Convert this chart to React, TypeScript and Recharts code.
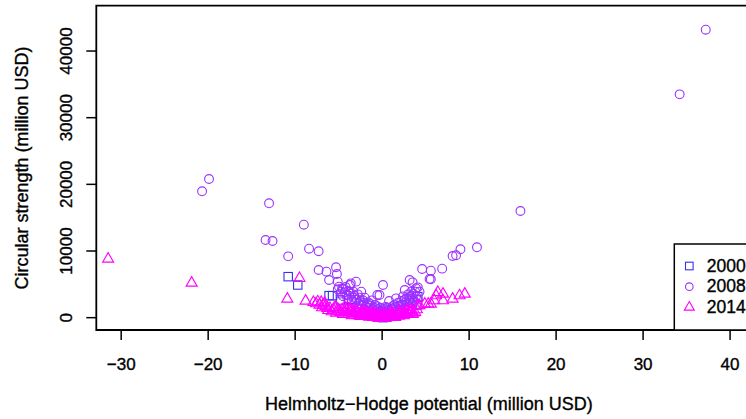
import React from "react";
import { ScatterChart, Scatter, XAxis, YAxis, ReferenceArea } from "recharts";

const xTicks = [-30, -20, -10, 0, 10, 20, 30, 40];
const yTicks = [0, 10000, 20000, 30000, 40000];
const seriesNames = ["2000", "2008", "2014"];
const colors = ["#3a2ef0", "#9b30ff", "#ff00ff"];

const pts2000 = [
  { x: -10.8, y: 6150 }, { x: -9.7, y: 4900 }, { x: -6.1, y: 3300 }, { x: -5.7, y: 3300 },
  { x: -4.8, y: 2650 }, { x: 4.1, y: 3150 }, { x: 3.5, y: 2200 }, { x: 3.2, y: 1400 },
  { x: 0.1, y: 0 }, { x: -0.5, y: 300 }, { x: 1.0, y: 200 }, { x: -2.0, y: 800 },
  { x: 2.0, y: 900 }, { x: -3.5, y: 1500 }, { x: -1.0, y: 500 }, { x: 0.5, y: 100 },
  { x: 4.0, y: 1900 },
];

const pts2008 = [
  { x: 37.2, y: 43200 }, { x: 34.2, y: 33500 }, { x: 15.9, y: 16000 }, { x: 10.9, y: 10560 },
  { x: 9.0, y: 10260 }, { x: 8.5, y: 9360 }, { x: 8.1, y: 9250 }, { x: 6.9, y: 7350 },
  { x: 5.6, y: 7050 }, { x: 4.6, y: 7300 }, { x: 5.6, y: 5760 },
  { x: -19.9, y: 20800 }, { x: -20.7, y: 18960 }, { x: -13.0, y: 17160 }, { x: -9.0, y: 13950 },
  { x: -13.4, y: 11650 }, { x: -12.6, y: 11500 }, { x: -10.8, y: 9200 }, { x: -8.4, y: 10350 },
  { x: -7.3, y: 9960 }, { x: -7.3, y: 7150 }, { x: -6.4, y: 6900 }, { x: -5.3, y: 7560 },
  { x: -5.2, y: 6550 }, { x: -6.1, y: 5650 }, { x: -5.1, y: 5400 }, { x: -3.6, y: 5150 },
  { x: -3.0, y: 5400 }, { x: -5.1, y: 4260 }, { x: -3.7, y: 3900 }, { x: -2.4, y: 3900 },
  { x: -0.55, y: 3400 }, { x: 0.1, y: 4900 }, { x: -0.3, y: 3400 }, { x: 3.16, y: 5650 },
  { x: 3.5, y: 5300 }, { x: 2.6, y: 4150 }, { x: 4.1, y: 4550 }, { x: 4.3, y: 3900 },
  { x: 5.45, y: 5800 }, { x: 3.9, y: 4400 }, { x: 3.35, y: 3900 },
  { x: -4.96, y: 4650 }, { x: -4.5, y: 4260 }, { x: -3.7, y: 4900 }, { x: -3.3, y: 3900 },
  { x: -4.8, y: 3600 }, { x: -4.5, y: 3200 }, { x: -4.3, y: 3800 }, { x: -4.0, y: 2900 },
  { x: -3.8, y: 3300 }, { x: -3.5, y: 2600 }, { x: -3.3, y: 3000 }, { x: -3.1, y: 2300 },
  { x: -2.9, y: 2700 }, { x: -2.7, y: 2100 }, { x: -2.5, y: 2500 }, { x: -2.3, y: 1900 },
  { x: -2.1, y: 2200 }, { x: -1.9, y: 1700 }, { x: -1.7, y: 2000 }, { x: -1.5, y: 1500 },
  { x: -1.3, y: 1800 }, { x: -1.1, y: 1300 }, { x: -0.9, y: 1500 }, { x: -0.7, y: 1100 },
  { x: -0.5, y: 1300 }, { x: -0.3, y: 900 }, { x: -0.1, y: 1100 }, { x: 0.1, y: 800 },
  { x: 0.3, y: 1000 }, { x: 0.5, y: 900 }, { x: 0.7, y: 1200 }, { x: 0.9, y: 1000 },
  { x: 1.1, y: 1400 }, { x: 1.3, y: 1200 }, { x: 1.5, y: 1600 }, { x: 1.7, y: 1400 },
  { x: 1.9, y: 1800 }, { x: 2.1, y: 1600 }, { x: 2.3, y: 2000 }, { x: 2.5, y: 1800 },
  { x: 2.7, y: 2300 }, { x: 2.9, y: 2000 }, { x: 3.1, y: 2600 }, { x: 3.3, y: 2300 },
  { x: 3.5, y: 2900 }, { x: 3.7, y: 2500 }, { x: 3.9, y: 3200 }, { x: 4.1, y: 2700 },
  { x: -4.6, y: 4400 }, { x: -4.2, y: 4600 }, { x: -3.9, y: 4000 }, { x: -2.8, y: 3500 },
  { x: -2.0, y: 3000 }, { x: -1.2, y: 2600 }, { x: 0.8, y: 2500 }, { x: 1.6, y: 2900 },
  { x: 2.4, y: 3200 }, { x: 3.0, y: 3500 }, { x: -1.0, y: 600 }, { x: 0.0, y: 400 },
  { x: 1.0, y: 500 }, { x: -2.0, y: 1100 }, { x: 2.0, y: 1200 }, { x: -3.0, y: 1600 },
  { x: 3.0, y: 1700 },
  { x: -4.7, y: 3900 }, { x: -4.1, y: 3400 }, { x: -3.6, y: 3600 }, { x: -3.2, y: 3300 },
  { x: -2.6, y: 3000 }, { x: -2.2, y: 2600 }, { x: -1.6, y: 2300 }, { x: -1.4, y: 2100 },
  { x: -0.8, y: 1900 }, { x: -0.6, y: 1700 }, { x: -0.2, y: 1500 }, { x: 0.2, y: 1300 },
  { x: 0.4, y: 1600 }, { x: 0.6, y: 1500 }, { x: 1.2, y: 1700 }, { x: 1.4, y: 1900 },
  { x: 1.8, y: 2200 }, { x: 2.2, y: 2500 }, { x: 2.6, y: 2700 }, { x: 2.8, y: 2900 },
  { x: 3.2, y: 3100 }, { x: 3.4, y: 3300 }, { x: 3.6, y: 3600 }, { x: 3.8, y: 3900 },
  { x: -1.6, y: 1100 }, { x: -0.4, y: 700 }, { x: 0.6, y: 600 }, { x: 1.6, y: 1000 },
  { x: 2.6, y: 1300 }, { x: -2.6, y: 1400 },
];

const pts2014 = [
  { x: -31.5, y: 8900 }, { x: -21.9, y: 5300 }, { x: -10.9, y: 2900 }, { x: -9.5, y: 6000 },
  { x: -8.8, y: 2600 }, { x: -7.0, y: 2400 }, { x: -6.8, y: 2000 }, { x: -5.3, y: 1650 },
  { x: -3.7, y: 1400 }, { x: 5.6, y: 2150 }, { x: 6.2, y: 3400 }, { x: 7.0, y: 3650 },
  { x: 7.0, y: 2650 }, { x: 8.1, y: 2900 }, { x: 8.9, y: 3400 }, { x: 9.5, y: 3650 },
  { x: 4.9, y: 2150 }, { x: 4.3, y: 1900 }, { x: -5.45, y: 1650 }, { x: -4.3, y: 1650 },
  { x: 5.3, y: 2150 }, { x: 6.4, y: 3900 }, { x: 6.0, y: 2650 }, { x: 4.1, y: 1900 },
  { x: -6.5, y: 1800 }, { x: -6.0, y: 1500 }, { x: -5.6, y: 1300 }, { x: -5.0, y: 1100 },
  { x: -4.6, y: 1300 }, { x: -4.2, y: 900 }, { x: -3.8, y: 1100 }, { x: -3.4, y: 700 },
  { x: -3.0, y: 900 }, { x: -2.6, y: 600 }, { x: -2.2, y: 800 }, { x: -1.8, y: 400 },
  { x: -1.4, y: 600 }, { x: -1.0, y: 300 }, { x: -0.6, y: 500 }, { x: -0.2, y: 150 },
  { x: 0.2, y: 300 }, { x: 0.6, y: 150 }, { x: 1.0, y: 400 }, { x: 1.4, y: 300 },
  { x: 1.8, y: 600 }, { x: 2.2, y: 500 }, { x: 2.6, y: 800 }, { x: 3.0, y: 700 },
  { x: 3.4, y: 1000 }, { x: 3.8, y: 900 }, { x: -4.0, y: 1600 }, { x: -3.0, y: 1300 },
  { x: -2.0, y: 1100 }, { x: -1.0, y: 800 }, { x: 0.0, y: 600 }, { x: 1.0, y: 800 },
  { x: 2.0, y: 1000 }, { x: 3.0, y: 1300 }, { x: -0.4, y: 0 }, { x: 0.4, y: 50 },
  { x: -1.5, y: 200 }, { x: 1.5, y: 150 }, { x: -2.5, y: 300 }, { x: 2.5, y: 400 },
  { x: -3.5, y: 400 }, { x: 3.5, y: 600 }, { x: 4.0, y: 1300 }, { x: -5.3, y: 800 },
  { x: -4.5, y: 600 }, { x: -6.2, y: 1200 }, { x: -7.2, y: 2000 }, { x: -7.6, y: 2200 },
  { x: -6.9, y: 1600 }, { x: -6.6, y: 2300 },
  { x: -4.8, y: 900 }, { x: -4.4, y: 1000 }, { x: -3.9, y: 700 }, { x: -3.6, y: 900 },
  { x: -3.2, y: 500 }, { x: -2.9, y: 700 }, { x: -2.7, y: 400 }, { x: -2.4, y: 600 },
  { x: -2.1, y: 300 }, { x: -1.9, y: 500 }, { x: -1.6, y: 300 }, { x: -1.3, y: 400 },
  { x: -1.1, y: 150 }, { x: -0.8, y: 300 }, { x: -0.5, y: 100 }, { x: -0.3, y: 250 },
  { x: 0.0, y: 100 }, { x: 0.1, y: 250 }, { x: 0.3, y: 100 }, { x: 0.5, y: 300 },
  { x: 0.8, y: 200 }, { x: 1.2, y: 250 }, { x: 1.6, y: 450 }, { x: 1.9, y: 350 },
  { x: 2.3, y: 700 }, { x: 2.7, y: 600 }, { x: 3.2, y: 900 }, { x: 3.6, y: 800 },
  { x: -5.8, y: 1000 }, { x: -6.3, y: 1500 }, { x: -5.1, y: 1400 }, { x: -4.1, y: 1200 },
  { x: -3.3, y: 1000 }, { x: -2.4, y: 900 }, { x: -1.6, y: 700 }, { x: -0.8, y: 650 },
  { x: 0.4, y: 550 }, { x: 1.2, y: 650 }, { x: 2.0, y: 800 }, { x: 2.8, y: 1100 },
  { x: 3.3, y: 1200 }, { x: -7.9, y: 2400 }, { x: -7.4, y: 2500 },
];

const FONT = "'Liberation Sans', Arial, Helvetica, sans-serif";
const X_DOMAIN: [number, number] = [-32.86, 43.6];
const Y_DOMAIN: [number, number] = [-1850, 46800];
const TXT_STROKE = 0.35;

const fmt = (v: number) => String(v).replace("-", "\u2212");

const Square = (props: any) => {
  const { cx, cy, color, s = 4.2 } = props;
  if (cx == null || cy == null) return null;
  return <rect x={cx - s} y={cy - s} width={2 * s} height={2 * s} fill="none" stroke={color} strokeWidth={1.1} />;
};
const Circle = (props: any) => {
  const { cx, cy, color, s = 4.4 } = props;
  if (cx == null || cy == null) return null;
  return <circle cx={cx} cy={cy} r={s} fill="none" stroke={color} strokeWidth={1.1} />;
};
const Triangle = (props: any) => {
  const { cx, cy, color, s = 5.5 } = props;
  if (cx == null || cy == null) return null;
  const h = s * 1.73;
  const w = s;
  return (
    <path
      d={`M${cx},${cy - h * 0.6} L${cx + w},${cy + h * 0.4} L${cx - w},${cy + h * 0.4} Z`}
      fill="none"
      stroke={color}
      strokeWidth={1.1}
    />
  );
};

const YTick = (props: any) => {
  const { x, y, payload } = props;
  return (
    <text
      x={x}
      y={y}
      transform={`rotate(-90, ${x}, ${y})`}
      textAnchor="middle"
      fontSize={17}
      fontFamily={FONT}
      fill="#000"
      stroke="#000"
      strokeWidth={TXT_STROKE}
    >
      {fmt(payload.value)}
    </text>
  );
};

export default function App() {
  return (
    <div style={{ position: "absolute", left: 0, top: 0, width: 746, height: 419, overflow: "hidden", background: "#fff" }}>
      <ScatterChart
        width={800}
        height={419}
        margin={{ top: 5.7, right: 38.6, bottom: 49, left: 36.3 }}
      >
        <XAxis
          type="number"
          dataKey="x"
          domain={X_DOMAIN}
          ticks={xTicks}
          allowDataOverflow
          height={40}
          axisLine={false}
          tickLine={{ stroke: "#000", strokeWidth: 1.5 }}
          tickSize={10}
          tickMargin={18}
          tickFormatter={fmt}
          tick={{ fill: "#000", fontSize: 17, fontFamily: FONT, stroke: "#000", strokeWidth: TXT_STROKE }}
          interval={0}
        />
        <YAxis
          type="number"
          dataKey="y"
          domain={Y_DOMAIN}
          ticks={yTicks}
          allowDataOverflow
          width={60}
          axisLine={false}
          tickLine={{ stroke: "#000", strokeWidth: 1.5 }}
          tickSize={10}
          tickMargin={14.6}
          tick={<YTick />}
          interval={0}
        />
        <ReferenceArea
          x1={X_DOMAIN[0]}
          x2={X_DOMAIN[1]}
          y1={Y_DOMAIN[0]}
          y2={Y_DOMAIN[1]}
          fill="none"
          fillOpacity={0}
          stroke="#000"
          strokeWidth={1.8}
          ifOverflow="visible"
        />
        <Scatter name={seriesNames[0]} data={pts2000} isAnimationActive={false} shape={(p: any) => <Square {...p} color={colors[0]} />} />
        <Scatter name={seriesNames[1]} data={pts2008} isAnimationActive={false} shape={(p: any) => <Circle {...p} color={colors[1]} />} />
        <Scatter name={seriesNames[2]} data={pts2014} isAnimationActive={false} shape={(p: any) => <Triangle {...p} color={colors[2]} />} />
      </ScatterChart>
      <svg width={746} height={419} style={{ position: "absolute", left: 0, top: 0, pointerEvents: "none" }}>
        <text x={428.9} y={410} textAnchor="middle" fontSize={18} fontFamily={FONT} fill="#000" stroke="#000" strokeWidth={TXT_STROKE}>
          {"Helmholtz\u2212Hodge potential (million USD)"}
        </text>
        <text
          x={28}
          y={168}
          transform="rotate(-90, 28, 168)"
          textAnchor="middle"
          fontSize={18}
          fontFamily={FONT}
          fill="#000"
          stroke="#000"
          strokeWidth={TXT_STROKE}
        >
          Circular strength (million USD)
        </text>
        <rect x={674.3} y={244} width={120} height={86} fill="#fff" stroke="#000" strokeWidth={1.5} />
        <Square cx={689.3} cy={266} color={colors[0]} s={3.8} />
        <Circle cx={689.3} cy={286.7} color={colors[1]} s={3.8} />
        <Triangle cx={689.3} cy={306.7} color={colors[2]} s={5} />
        {seriesNames.map((n, i) => (
          <text key={n} x={706.7} y={271.8 + i * 20.4} fontSize={17.5} fontFamily={FONT} fill="#000" stroke="#000" strokeWidth={TXT_STROKE}>
            {n}
          </text>
        ))}
      </svg>
    </div>
  );
}
